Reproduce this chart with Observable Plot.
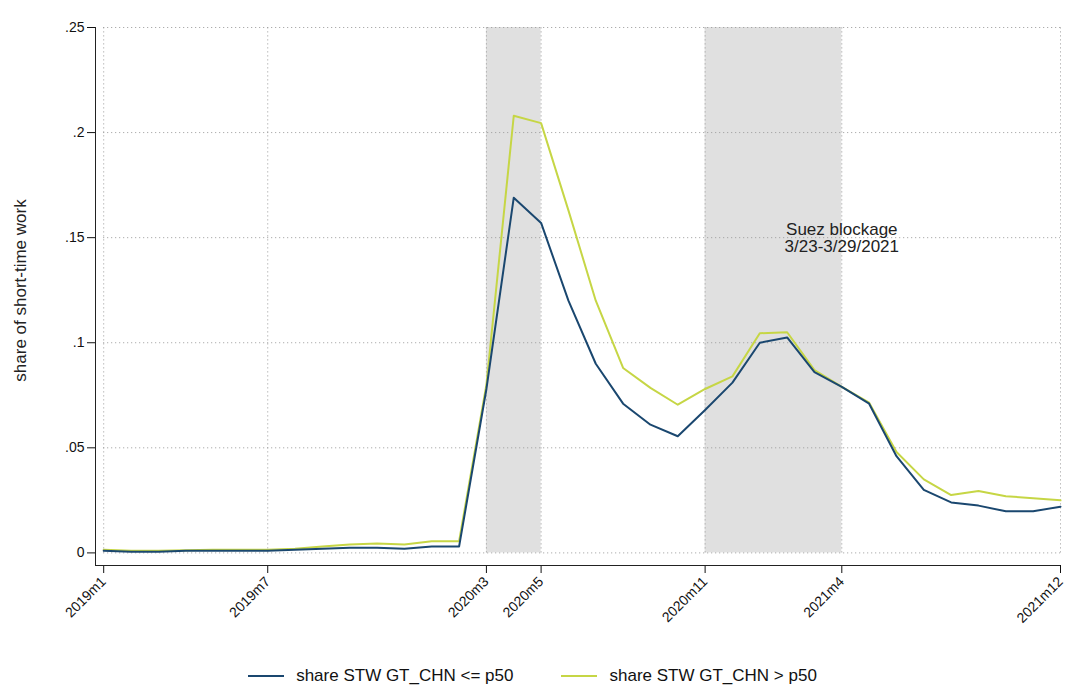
<!DOCTYPE html>
<html><head><meta charset="utf-8">
<script src="https://cdn.jsdelivr.net/npm/d3@7"></script>
<script src="https://cdn.jsdelivr.net/npm/@observablehq/plot@0.6"></script>
<style>
body{margin:0;background:#fff;font-family:"Liberation Sans",Arial,sans-serif}
#legend{display:flex;justify-content:center;gap:48px;font-size:17px;margin-top:6px;color:#111}
#legend span{display:inline-flex;align-items:center;gap:12px}
#legend i{display:inline-block;width:36px;height:2px}
</style></head><body>
<div id="chart"></div>
<div id="legend">
  <span><i style="background:#1a476f"></i>share STW GT_CHN &lt;= p50</span>
  <span><i style="background:#c6d645"></i>share STW GT_CHN &gt; p50</span>
</div>
<script>
const months = d3.range(36)
const low = [.001,.0005,.0005,.001,.001,.001,.001,.0015,.002,.0025,.0025,.002,.003,.003,.078,.169,.157,.12,.09,.071,.061,.0555,.068,.081,.100,.1025,.086,.079,.071,.046,.030,.024,.0225,.0198,.0198,.022]
const high = [.0015,.001,.001,.0012,.0015,.0015,.0015,.002,.003,.004,.0045,.004,.0055,.0055,.08,.208,.2045,.163,.12,.088,.0785,.0705,.078,.084,.1045,.105,.087,.079,.0715,.048,.035,.0275,.0295,.027,.026,.025]
const tickIdx = [0,6,14,16,22,27,35]
const tickLabels = ["2019m1","2019m7","2020m3","2020m5","2020m11","2021m4","2021m12"]
const yTicks = [0,.05,.1,.15,.2,.25]
const yLabels = ["0",".05",".1",".15",".2",".25"]
const shades = [{a:14,b:16},{a:22,b:27}]

const chart = Plot.plot({
  width: 1065, height: 660,
  marginLeft: 95, marginRight: 5, marginTop: 27, marginBottom: 95,
  style: {fontFamily: "Liberation Sans, Arial, sans-serif", fontSize: "14px", color: "#111"},
  x: {domain: [-0.3, 35], ticks: tickIdx, tickFormat: d => tickLabels[tickIdx.indexOf(d)], tickRotate: -45, label: null, tickSize: 8},
  y: {domain: [-0.006, 0.25], ticks: yTicks, tickFormat: d => yLabels[yTicks.indexOf(d)], label: null, tickSize: 8},
  marks: [
    Plot.rect(shades, {x1: "a", x2: "b", y1: 0, y2: 0.25, fill: "#e0e0e0"}),
    Plot.gridX(tickIdx, {stroke: "#999", strokeOpacity: 1, strokeDasharray: "1,3", y1: 0, y2: 0.25}),
    Plot.gridY(yTicks, {stroke: "#999", strokeOpacity: 1, strokeDasharray: "1,3", x1: 0, x2: 35}),
    Plot.ruleX([-0.3], {stroke: "#222"}),
    Plot.ruleY([-0.006], {stroke: "#222"}),
    Plot.line(months, {x: d => d, y: d => high[d], stroke: "#c6d645", strokeWidth: 2}),
    Plot.line(months, {x: d => d, y: d => low[d], stroke: "#1a476f", strokeWidth: 2}),
    Plot.text(["Suez blockage\n3/23-3/29/2021"], {x: 27, y: 0.15, fontSize: 17, fill: "#222"}),
    Plot.text(["share of short-time work"], {frameAnchor: "left", textAnchor: "middle", dx: -75, dy: -6, rotate: -90, fontSize: 17, fill: "#222"})
  ]
})
document.getElementById("chart").append(chart)
</script>
</body></html>
